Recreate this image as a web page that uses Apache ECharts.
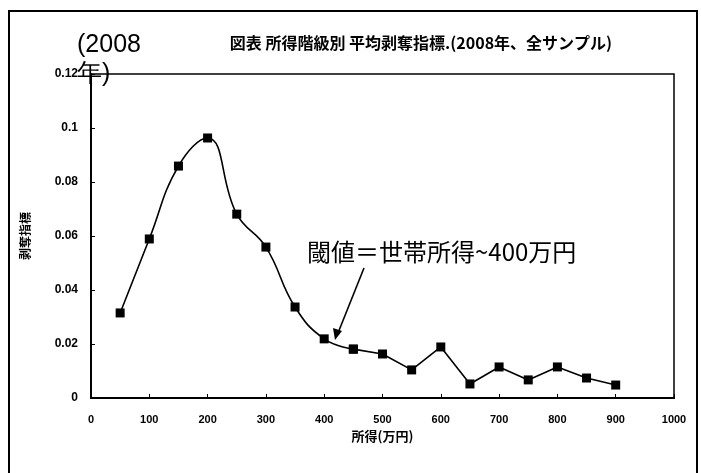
<!DOCTYPE html>
<html>
<head>
<meta charset="utf-8">
<script src="https://cdn.jsdelivr.net/npm/echarts@6/dist/echarts.min.js"></script>
<style>
  html, body { margin: 0; padding: 0; background: #fff; }
  #chart { width: 701px; height: 473px; }
</style>
</head>
<body>
<div id="chart"></div>
<script>
// Income class (万円) and average deprivation index, 2008, all samples
const incomes = [50, 100, 150, 200, 250, 300, 350, 400, 450, 500, 550, 600, 650, 700, 750, 800, 850, 900];
const deprivation = [0.0315, 0.0589, 0.0859, 0.0963, 0.0681, 0.0559, 0.0337, 0.0219, 0.0181, 0.0163, 0.0104, 0.0189, 0.0052, 0.0115, 0.0067, 0.0115, 0.0074, 0.0048];
const xTicks = [0, 100, 200, 300, 400, 500, 600, 700, 800, 900, 1000];
const yTicks = [0, 0.02, 0.04, 0.06, 0.08, 0.1, 0.12];

const titleText = '図表 所得階級別 平均剥奪指標.(2008年、全サンプル)';
const yearText = '(2008\n年)';
const xName = '所得(万円)';
const yName = '剥奪指標';
const noteText = '閾値＝世帯所得~400万円';

// the curve is smoothed up to 450万円 and drawn straight afterwards
const splitAt = 8;
const pairs = incomes.map((x, i) => [x, deprivation[i]]);
const smoothPart = pairs.slice(0, splitAt + 1);
const straightPart = pairs.slice(splitAt);

const cjk = '"Noto Sans CJK JP", sans-serif';
const latin = '"Liberation Sans", Arial, sans-serif';

const chart = echarts.init(document.getElementById('chart'), null, { renderer: 'canvas' });
chart.setOption({
  animation: false,
  backgroundColor: '#fff',
  title: {
    text: titleText,
    left: 416, top: 30, textAlign: 'center',
    textStyle: { fontSize: 16, fontWeight: 'bold', color: '#000', fontFamily: cjk }
  },
  grid: { left: 91, right: 27, top: 74, bottom: 75, show: true, borderColor: '#000', borderWidth: 1.5, backgroundColor: '#fff' },
  xAxis: {
    type: 'value', min: xTicks[0], max: xTicks[xTicks.length - 1], interval: 100,
    name: xName, nameLocation: 'middle', nameGap: 32,
    nameTextStyle: { color: '#000', fontSize: 13, fontWeight: 'bold', fontFamily: cjk },
    axisLine: { lineStyle: { color: '#000', width: 2 } },
    axisTick: { inside: true, length: 4, lineStyle: { color: '#000' } },
    axisLabel: { margin: 16, color: '#000', fontSize: 11, fontWeight: 'bold', fontFamily: latin, formatter: v => String(v) },
    splitLine: { show: false }
  },
  yAxis: {
    type: 'value', min: yTicks[0], max: yTicks[yTicks.length - 1], interval: 0.02,
    name: yName, nameLocation: 'middle', nameGap: 60, nameRotate: 90,
    nameTextStyle: { color: '#000', fontSize: 12, fontWeight: 'bold', fontFamily: cjk },
    axisLine: { lineStyle: { color: '#000', width: 2 } },
    axisTick: { inside: true, length: 4, lineStyle: { color: '#000' } },
    axisLabel: { margin: 13, color: '#000', fontSize: 12, fontWeight: 'bold', fontFamily: latin, formatter: v => String(+v.toFixed(2)) },
    splitLine: { show: false }
  },
  series: [
    {
      type: 'line', data: smoothPart, smooth: 0.45,
      symbol: 'rect', symbolSize: 9,
      lineStyle: { color: '#000', width: 1.6 },
      itemStyle: { color: '#000' }
    },
    {
      type: 'line', data: straightPart, smooth: false,
      symbol: 'rect', symbolSize: 9,
      lineStyle: { color: '#000', width: 1.6 },
      itemStyle: { color: '#000' }
    }
  ],
  graphic: [
    // outer frame of the figure
    { type: 'rect', shape: { x: 9, y: 11, width: 688, height: 470 }, style: { fill: null, stroke: '#000', lineWidth: 2 }, z: 1 },
    { type: 'text', left: 77, top: 31, style: { text: yearText, fill: '#000', fontSize: 25, lineHeight: 29, fontFamily: latin }, z: 100 },
    { type: 'text', left: 307, top: 240, style: { text: noteText, fill: '#000', fontSize: 24, fontFamily: cjk }, z: 100 },
    { type: 'line', shape: { x1: 364, y1: 268, x2: 338, y2: 333 }, style: { stroke: '#000', lineWidth: 1.6 }, z: 100 },
    { type: 'polygon', shape: { points: [[335, 340], [333, 328], [342, 331]] }, style: { fill: '#000' }, z: 100 }
  ]
});
</script>
</body>
</html>
